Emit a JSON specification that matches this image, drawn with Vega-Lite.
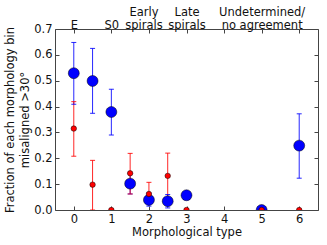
{
  "$schema": "https://vega.github.io/schema/vega-lite/v6.json",
  "width": 263,
  "height": 181,
  "autosize": {"type": "none"},
  "padding": {"left": 55, "top": 29, "right": 9, "bottom": 35},
  "config": {
    "font": "DejaVu Sans",
    "view": {"stroke": "#444", "strokeWidth": 1},
    "axis": {
      "grid": false,
      "domain": false,
      "tickColor": "#444",
      "tickSize": -4,
      "labelPadding": 7,
      "labelFontSize": 11.5,
      "labelColor": "#111",
      "titleFontSize": 11.5,
      "titleFontWeight": "normal",
      "titleColor": "#111",
      "labelFont": "DejaVu Sans",
      "titleFont": "DejaVu Sans"
    }
  },
  "data": {
    "values": [
      {"group": "Field/group", "x": 0, "y": 0.529, "lo": 0.409, "hi": 0.648},
      {"group": "Field/group", "x": 0.5, "y": 0.499, "lo": 0.374, "hi": 0.625},
      {"group": "Field/group", "x": 1, "y": 0.379, "lo": 0.29, "hi": 0.467},
      {"group": "Field/group", "x": 1.5, "y": 0.102, "lo": 0.062, "hi": 0.142},
      {"group": "Field/group", "x": 2, "y": 0.039, "lo": 0.015, "hi": 0.065},
      {"group": "Field/group", "x": 2.5, "y": 0.034, "lo": 0.008, "hi": 0.06},
      {"group": "Field/group", "x": 3, "y": 0.057, "lo": 0.057, "hi": 0.057},
      {"group": "Field/group", "x": 5, "y": 0, "lo": 0, "hi": 0},
      {"group": "Field/group", "x": 6, "y": 0.249, "lo": 0.123, "hi": 0.372},
      {"group": "Clusters", "x": 0, "y": 0.315, "lo": 0.208, "hi": 0.419},
      {"group": "Clusters", "x": 0.5, "y": 0.098, "lo": 0.0, "hi": 0.192},
      {"group": "Clusters", "x": 1, "y": 0, "lo": 0, "hi": 0},
      {"group": "Clusters", "x": 1.5, "y": 0.142, "lo": 0.062, "hi": 0.219},
      {"group": "Clusters", "x": 2, "y": 0.062, "lo": 0.025, "hi": 0.107},
      {"group": "Clusters", "x": 2.5, "y": 0.132, "lo": 0.045, "hi": 0.22},
      {"group": "Clusters", "x": 3, "y": 0, "lo": 0, "hi": 0},
      {"group": "Clusters", "x": 5, "y": 0, "lo": 0, "hi": 0},
      {"group": "Clusters", "x": 6, "y": 0, "lo": 0, "hi": 0}
    ]
  },
  "resolve": {"axis": {"x": "independent", "y": "independent"}},
  "layer": [
    {
      "mark": {"type": "rule", "strokeWidth": 1, "opacity": 0.85, "clip": true},
      "encoding": {
        "x": {"field": "x", "type": "quantitative", "scale": {"domain": [-0.5, 6.5], "nice": false, "zero": false},
          "axis": {"orient": "bottom", "values": [0, 1, 2, 3, 4, 5, 6], "format": "d", "title": "Morphological type", "titlePadding": 2}},
        "y": {"field": "lo", "type": "quantitative", "scale": {"domain": [0, 0.7], "nice": false, "zero": false},
          "axis": {"orient": "left", "values": [0, 0.1, 0.2, 0.3, 0.4, 0.5, 0.6, 0.7], "format": ".1f",
            "title": ["Fraction of each morphology bin", "misaligned >30°"], "titleLineHeight": 15, "titlePadding": 3}},
        "y2": {"field": "hi"},
        "color": {"field": "group", "type": "nominal", "scale": {"domain": ["Field/group", "Clusters"], "range": ["#0000ff", "#ff0000"]}, "legend": null}
      }
    },
    {
      "mark": {"type": "tick", "orient": "horizontal", "size": 5, "thickness": 1, "opacity": 0.85, "clip": true},
      "encoding": {
        "x": {"field": "x", "type": "quantitative", "axis": null},
        "y": {"field": "lo", "type": "quantitative", "axis": null},
        "color": {"field": "group", "type": "nominal", "legend": null}
      }
    },
    {
      "mark": {"type": "tick", "orient": "horizontal", "size": 5, "thickness": 1, "opacity": 0.85, "clip": true},
      "encoding": {
        "x": {"field": "x", "type": "quantitative", "axis": null},
        "y": {"field": "hi", "type": "quantitative", "axis": null},
        "color": {"field": "group", "type": "nominal", "legend": null}
      }
    },
    {
      "mark": {"type": "circle", "opacity": 1, "stroke": "#000", "strokeWidth": 0.5, "clip": true},
      "encoding": {
        "x": {"field": "x", "type": "quantitative",
          "axis": {"orient": "top", "values": [0, 1, 2, 3, 4, 5, 6], "title": null, "labelOverlap": false, "labelFlush": false, "labelLineHeight": 13, "labelPadding": 16,
            "labelOffset": {"condition": {"test": "datum.value == 2", "value": -5.5}, "value": 0},
            "labelExpr": "datum.value == 0 ? ['', 'E'] : datum.value == 1 ? ['', 'S0'] : datum.value == 2 ? ['Early', 'spirals'] : datum.value == 3 ? ['Late', 'spirals'] : datum.value == 5 ? ['Undetermined/', 'no agreement'] : ''"}},
        "y": {"field": "y", "type": "quantitative",
          "axis": {"orient": "right", "values": [0, 0.1, 0.2, 0.3, 0.4, 0.5, 0.6, 0.7], "labels": false, "title": null}},
        "color": {"field": "group", "type": "nominal",
          "legend": {"orient": "none", "legendX": 164, "legendY": 7, "title": null, "symbolSize": 0, "symbolStrokeWidth": 0, "symbolOpacity": 0,
            "labelOffset": 0, "labelFontSize": 11.5, "labelFont": "DejaVu Sans", "padding": 0, "rowPadding": 2, "labelLimit": 200,
            "encode": {"labels": {"update": {"fill": {"signal": "datum.value === 'Clusters' ? '#ff0000' : '#0000ff'"}}}}}},
        "size": {"field": "group", "type": "nominal", "scale": {"domain": ["Field/group", "Clusters"], "range": [120, 30]}, "legend": null}
      }
    }
  ]
}
